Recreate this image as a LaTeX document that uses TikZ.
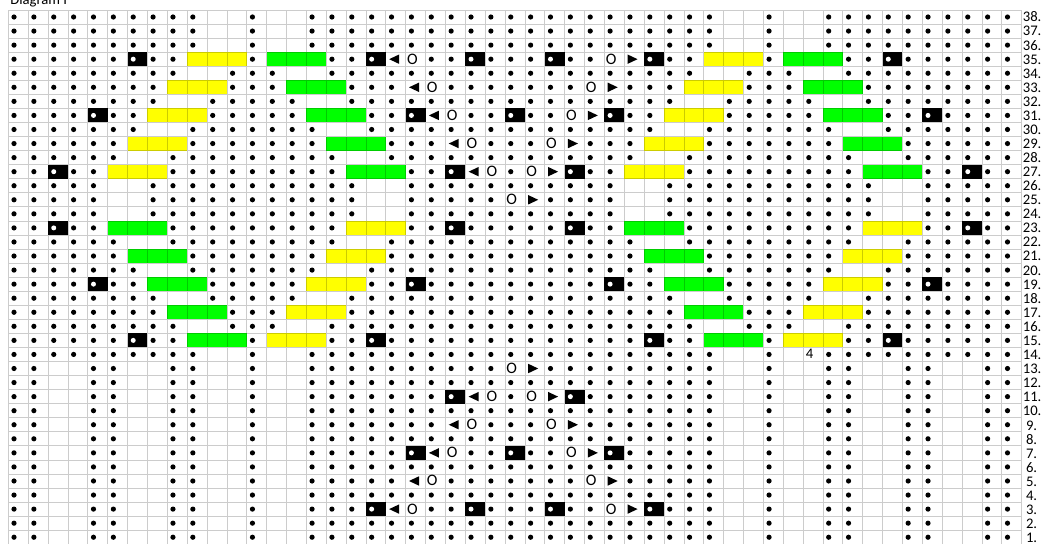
\documentclass[tikz,border=0pt]{standalone}
\usepackage{fontspec}
\setmainfont{Carlito}

\definecolor{cableyellow}{HTML}{FFFF00}
\definecolor{cablegreen}{HTML}{00FF00}

\tikzset{
  gridline/.style={draw=black, draw opacity=0.2, line width=0.75pt},
  chartfont/.style={font=\fontsize{14.67pt}{17pt}\selectfont, inner sep=0pt, anchor=base west},
  yofont/.style={font=\fontsize{16pt}{18pt}\selectfont, inner sep=0pt, anchor=base west},
  blank/.style={fill=white},
  cableY/.style={fill=cableyellow},
  cableG/.style={fill=cablegreen},
  bobble/.style={fill=black},
}

\begin{document}
\begin{tikzpicture}[x=19.87pt, y=14.06pt]
\useasboundingbox (-0.418,0.02) rectangle (52.98,38.71);

\node[chartfont] (title) at (0.09,38.36) {Diagram I};

% purl dots in every cell first
\foreach \r in {1,...,38}
  \foreach \c in {1,...,51}
    \fill (\c-0.713,\r-0.5) circle[radius=2.6pt];

% empty cells beside the cables
\foreach \r/\k in {38/0,37/0,36/0,34/1,32/2,30/3,28/4,26/5,25/5,24/5,22/4,20/3,18/2,16/1,14/0}
  \foreach \c in {11-\k,14+\k,37-\k,40+\k}
    \fill[blank] (\c-1,\r-1) rectangle (\c+1,\r);
\foreach \r in {1,...,13}
  \foreach \c in {3,7,11,14,37,40,44,48}
    \fill[blank] (\c-1,\r-1) rectangle (\c+1,\r);

% cables
\foreach \k in {0,...,4} {
  \fill[cableY] (9-\k,34-2*\k) rectangle (12-\k,35-2*\k);
  \fill[cableG] (13+\k,34-2*\k) rectangle (16+\k,35-2*\k);
  \fill[cableY] (35-\k,34-2*\k) rectangle (38-\k,35-2*\k);
  \fill[cableG] (39+\k,34-2*\k) rectangle (42+\k,35-2*\k);
  \fill[cableG] (5+\k,22-2*\k) rectangle (8+\k,23-2*\k);
  \fill[cableY] (17-\k,22-2*\k) rectangle (20-\k,23-2*\k);
  \fill[cableG] (31+\k,22-2*\k) rectangle (34+\k,23-2*\k);
  \fill[cableY] (43-\k,22-2*\k) rectangle (46-\k,23-2*\k);
}

% bobbles
\foreach \c/\r in {7/35,19/35,24/35,28/35,33/35,45/35,
                   5/31,21/31,26/31,31/31,47/31,
                   3/27,23/27,29/27,49/27,3/23,23/23,29/23,49/23,
                   5/19,21/19,31/19,47/19,7/15,19/15,33/15,45/15,
                   23/11,29/11,21/7,26/7,31/7,19/3,24/3,28/3,33/3} {
  \fill[bobble] (\c-1,\r-1) rectangle (\c,\r);
  \fill[white] (\c-0.713,\r-0.5) circle[radius=2.5pt];
}

% left decreases
\foreach \c/\r in {20/35,21/33,22/31,23/29,24/27,24/11,23/9,22/7,21/5,20/3} {
  \fill[blank] (\c-1,\r-1) rectangle (\c,\r);
  \fill (\c-1,\r-0.5) ++(3.3pt,0) -- ++(10pt,4.7pt) -- ++(0,-9.4pt) -- cycle;
}
% right decreases
\foreach \c/\r in {32/35,31/33,30/31,29/29,28/27,27/25,27/13,28/11,29/9,30/7,31/5,32/3} {
  \fill[blank] (\c-1,\r-1) rectangle (\c,\r);
  \fill (\c-1,\r-0.5) ++(13.3pt,0) -- ++(-10pt,4.7pt) -- ++(0,-9.4pt) -- cycle;
}
% yarn overs
\foreach \c/\r in {21/35,31/35,22/33,30/33,23/31,29/31,24/29,28/29,25/27,27/27,26/25,
                   26/13,25/11,27/11,24/9,28/9,23/7,29/7,22/5,30/5,21/3,31/3} {
  \fill[blank] (\c-1,\r-1) rectangle (\c,\r);
  \node[yofont] (yo\c-\r) at (\c-0.94,\r-0.85) {O};
}

\node[chartfont] (stray) at (40.13,13.23) {4};

\draw[gridline, step=1] (0,0) grid (51,38);

% row numbers
\foreach \r in {10,...,38}
  \node[chartfont] (row\r) at (51.05,\r-0.85) {\r.};
\foreach \r in {1,...,9}
  \node[chartfont] (row\r) at (51.21,\r-0.9) {\r.};
\end{tikzpicture}
\end{document}
